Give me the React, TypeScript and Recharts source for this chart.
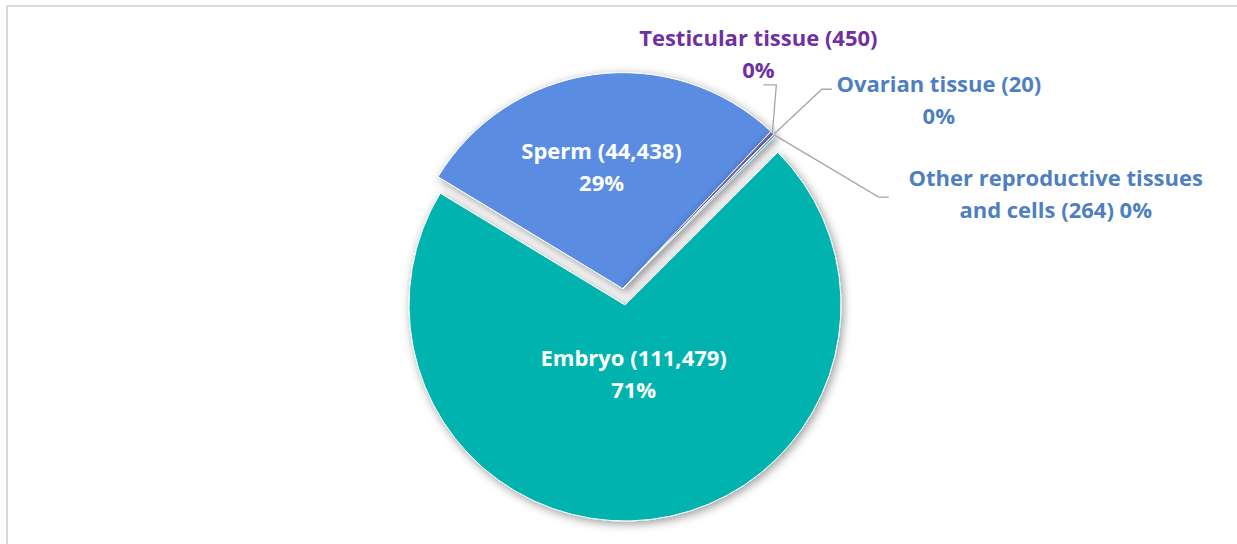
import React from 'react';
import { PieChart, Pie, Cell } from 'recharts';

// ---------- data ----------
const categories = ['Embryo', 'Sperm', 'Testicular tissue', 'Ovarian tissue', 'Other reproductive tissues and cells'];
const counts = [111479, 44438, 450, 20, 264];
const percentLabels = ['71%', '29%', '0%', '0%', '0%'];

// ---------- styles ----------
const sliceColors = ['#00B3AE', '#5A8DE2', '#8061A8', '#4BACC6', '#4FB0CE'];
const textColors = ['#FFFFFF', '#FFFFFF', '#7030A0', '#4F7FBF', '#4F7FBF'];
const FONT = '"Open Sans", Lato, sans-serif';
const FONT_SIZE = 22;
const LINE_GAP = 32;

const W = 1237;
const H = 544;
const CX = 625;
const CY = 305;
const R = 216;
const START_CLOCK = 45; // first slice starts at 45° clockwise from 12 o'clock
const EXPLODE = 16.5;

const data = categories.map((name, i) => ({ name, value: counts[i] }));
const total = counts.reduce((a, b) => a + b, 0);

// exploded group: Sperm + the small slices, moved along Sperm's bisector
const explodedIdx = [1, 2, 3, 4];
const baseIdx = [0];
const spermMidClock = START_CLOCK + (360 * (counts[0] + counts[1] / 2)) / total;
const rad = (d: number) => (d * Math.PI) / 180;
const EX_CX = CX + EXPLODE * Math.sin(rad(spermMidClock));
const EX_CY = CY - EXPLODE * Math.cos(rad(spermMidClock));

const fmt = (n: number) => n.toLocaleString('en-US');
const labelLines = (i: number): string[] =>
  i === 4
    ? ['Other reproductive tissues', `and cells (${fmt(counts[i])}) ${percentLabels[i]}`]
    : [`${categories[i]} (${fmt(counts[i])})`, percentLabels[i]];

// label placement: inside labels by radius along bisector; outside by offsets from slice tip
const inside: Record<number, { r: number; dx: number }> = { 0: { r: 68, dx: 0.5 }, 1: { r: 124, dx: -4.5 } };
const outside: Record<number, { elbow: [number, number]; end: [number, number]; text: [number, number] }> = {
  2: { elbow: [4, -48], end: [-9, -48], text: [-14, -80] },
  3: { elbow: [48, -45], end: [58, -45], text: [165, -35] },
  4: { elbow: [104, 62], end: [114, 62], text: [281, 58] },
};

const renderLabel = (group: number[]) => (props: any) => {
  const idx: number = typeof props.index === 'number' ? props.index : categories.indexOf(props.name);
  if (!group.includes(idx)) return null;
  const { cx, cy, midAngle, outerRadius } = props;
  const m = rad(midAngle);
  const lines = labelLines(idx);
  const textBlock = (x: number, y: number) => (
    <text
      x={x}
      y={y}
      textAnchor="middle"
      fill={textColors[idx]}
      style={{ fontFamily: FONT, fontSize: FONT_SIZE, fontWeight: 700 }}
    >
      {lines.map((l, k) => (
        <tspan key={k} x={x} y={y + (k - (lines.length - 1) / 2) * LINE_GAP} dominantBaseline="central">
          {l}
        </tspan>
      ))}
    </text>
  );
  if (inside[idx] !== undefined) {
    const { r, dx } = inside[idx];
    return <g key={`lbl-${idx}`}>{textBlock(cx + r * Math.cos(m) + dx, cy - r * Math.sin(m))}</g>;
  }
  const o = outside[idx];
  if (!o) return null;
  const tx = cx + outerRadius * Math.cos(m);
  const ty = cy - outerRadius * Math.sin(m);
  const pts = [
    [tx, ty],
    [tx + o.elbow[0], ty + o.elbow[1]],
    [tx + o.end[0], ty + o.end[1]],
  ]
    .map((p) => p.join(','))
    .join(' ');
  return (
    <g key={`lbl-${idx}`}>
      <polyline points={pts} fill="none" stroke="#A6A6A6" strokeWidth={1.3} />
      {textBlock(tx + o.text[0], ty + o.text[1])}
    </g>
  );
};

const cellsFor = (group: number[]) =>
  data.map((d, i) =>
    group.includes(i) ? (
      <Cell key={d.name} fill={sliceColors[i]} stroke="#FFFFFF" strokeWidth={1} filter="url(#sliceShadow)" />
    ) : (
      <Cell key={d.name} fill="transparent" stroke="none" />
    )
  );

export default function App() {
  return (
    <div style={{ position: 'absolute', left: 0, top: 0, width: W, height: H, overflow: 'hidden', background: '#fff' }}>
      <svg width={0} height={0} style={{ position: 'absolute' }}>
        <defs>
          <filter id="sliceShadow" filterUnits="userSpaceOnUse" x={0} y={0} width={W} height={H}>
            <feDropShadow dx={2} dy={2.5} stdDeviation={5} floodColor="#000" floodOpacity={0.4} />
          </filter>
        </defs>
      </svg>
      <div
        style={{
          position: 'absolute',
          left: 6,
          top: 5,
          width: 2000,
          height: 2000,
          border: '2px solid #D9D9D9',
        }}
      />
      <div style={{ position: 'absolute', left: 0, top: 0 }}>
        <PieChart width={W} height={H} margin={{ top: 0, right: 0, bottom: 0, left: 0 }}>
          <Pie
            data={data}
            dataKey="value"
            nameKey="name"
            cx={CX}
            cy={CY}
            outerRadius={R}
            startAngle={90 - START_CLOCK}
            endAngle={90 - START_CLOCK - 360}
            isAnimationActive={false}
            labelLine={false}
            label={renderLabel(baseIdx)}
          >
            {cellsFor(baseIdx)}
          </Pie>
          <Pie
            data={data}
            dataKey="value"
            nameKey="name"
            cx={EX_CX}
            cy={EX_CY}
            outerRadius={R}
            startAngle={90 - START_CLOCK}
            endAngle={90 - START_CLOCK - 360}
            isAnimationActive={false}
            labelLine={false}
            label={renderLabel(explodedIdx)}
          >
            {cellsFor(explodedIdx)}
          </Pie>
        </PieChart>
      </div>
    </div>
  );
}
